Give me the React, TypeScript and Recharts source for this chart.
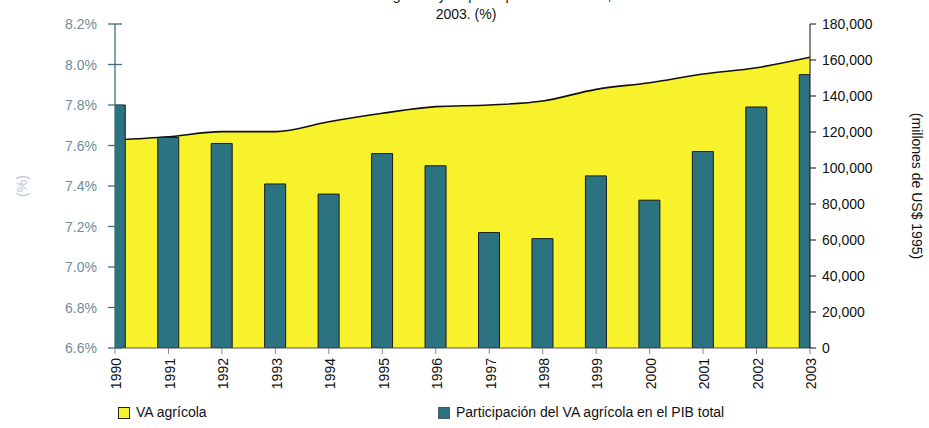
import React from 'react';
import { ComposedChart, Area, Bar, XAxis, YAxis, Legend } from 'recharts';

const years = [1990, 1991, 1992, 1993, 1994, 1995, 1996, 1997, 1998, 1999, 2000, 2001, 2002, 2003];
const vaAgricola = [115600, 117400, 120200, 120200, 125700, 130400, 134100, 135000, 137200, 143700, 147400, 152200, 155700, 161500];
const participacion = [7.80, 7.64, 7.61, 7.41, 7.36, 7.56, 7.50, 7.17, 7.14, 7.45, 7.33, 7.57, 7.79, 7.95];
const pctTicks = [6.6, 6.8, 7.0, 7.2, 7.4, 7.6, 7.8, 8.0, 8.2];
const vaTicks = [0, 20000, 40000, 60000, 80000, 100000, 120000, 140000, 160000, 180000];
const titleLine1 = 'Evolución del VA agrícola y su participación en el PIB, 1990 -';
const titleLine2 = '2003. (%)';
const legendVa = 'VA agrícola';
const legendPct = 'Participación del VA agrícola en el PIB total';

const data = years.map((y, i) => ({ year: y, va: vaAgricola[i], pct: participacion[i] }));

const FONT = 'Liberation Sans, Arial, sans-serif';
const YELLOW = '#f7f22c';
const TEAL = '#2c7382';
const LEFT_AXIS = '#3f6f7e';
const LEFT_TXT = '#6f8d9b';

const LeftTick = (props: any) => {
  const { x, y, payload } = props;
  const ax = x + 7 + 11;
  return (
    <g>
      <line x1={ax - 7} x2={ax + 7} y1={y} y2={y} stroke={LEFT_AXIS} strokeWidth={1.3} />
      <text x={x} y={y} dy="0.36em" textAnchor="end" fill={LEFT_TXT} fontSize={14} fontFamily={FONT}>
        {payload.value.toFixed(1) + '%'}
      </text>
    </g>
  );
};

const RightTick = (props: any) => {
  const { x, y, payload } = props;
  return (
    <text x={x} y={y} dy="0.36em" textAnchor="start" fill="#111" fontSize={14} fontFamily={FONT}>
      {payload.value.toLocaleString('en-US')}
    </text>
  );
};

const XTick = (props: any) => {
  const { x, y, payload } = props;
  return (
    <text x={x} y={y} dy="0.45em" textAnchor="end" transform={`rotate(-90, ${x}, ${y})`} fill="#111" fontSize={14} fontFamily={FONT}>
      {String(payload.value)}
    </text>
  );
};

const LegendContent = () => (
  <div style={{ position: 'relative', height: 24, width: 929, fontFamily: FONT, fontSize: 14, color: '#111' }}>
    <div style={{ position: 'absolute', left: 118, top: 3, width: 10, height: 10, background: YELLOW, border: '1px solid #222' }} />
    <div style={{ position: 'absolute', left: 136, top: 0, lineHeight: '16px', whiteSpace: 'nowrap' }}>{legendVa}</div>
    <div style={{ position: 'absolute', left: 438, top: 3, width: 10, height: 10, background: TEAL, border: '1px solid #556' }} />
    <div style={{ position: 'absolute', left: 456, top: 0, lineHeight: '16px', whiteSpace: 'nowrap' }}>{legendPct}</div>
  </div>
);

export default function App() {
  return (
    <div style={{ position: 'absolute', left: 0, top: 0, width: 929, height: 428, background: '#fff' }}>
      <ComposedChart width={929} height={428} data={data} margin={{ top: 24, right: 0, bottom: 0, left: 0 }}>
        <XAxis
          dataKey="year"
          type="number"
          domain={[1990, 2003]}
          ticks={years}
          interval={0}
          allowDataOverflow
          height={56}
          stroke="#555"
          tickSize={6}
          tickMargin={4}
          tick={<XTick />}
          tickLine={{ stroke: '#888' }}
        />
        <YAxis
          yAxisId="pct"
          orientation="left"
          domain={[6.6, 8.2]}
          ticks={pctTicks}
          interval={0}
          allowDataOverflow
          width={115}
          tickSize={7}
          tickMargin={11}
          tickLine={false}
          axisLine={{ stroke: LEFT_AXIS, strokeWidth: 1.3 }}
          tick={<LeftTick />}
          label={{ value: '(%)', angle: -90, position: 'insideLeft', offset: 22, style: { fill: '#b9c9d2', fontSize: 14, fontFamily: FONT, textAnchor: 'middle' } }}
        />
        <YAxis
          yAxisId="va"
          orientation="right"
          domain={[0, 180000]}
          ticks={vaTicks}
          interval={0}
          width={119}
          tickSize={6}
          tickMargin={6}
          stroke="#111"
          tickLine={{ stroke: '#111' }}
          tick={<RightTick />}
          label={{ value: '(millones de US$ 1995)', angle: 90, position: 'insideRight', offset: 12, style: { fill: '#111', fontSize: 14, fontFamily: FONT, textAnchor: 'middle' } }}
        />
        <Area yAxisId="va" dataKey="va" type="monotone" fill={YELLOW} fillOpacity={1} stroke="#111" strokeWidth={1.6} isAnimationActive={false} dot={false} activeDot={false} />
        <Bar yAxisId="pct" dataKey="pct" barSize={21} fill={TEAL} stroke="#1a1a1a" strokeWidth={1} isAnimationActive={false} />
        <Legend verticalAlign="bottom" align="left" height={24} content={<LegendContent />} wrapperStyle={{ left: 0, width: 929 }} />
        <text x={466} y={0} textAnchor="middle" fontSize={14} fontFamily={FONT} fill="#111">{titleLine1}</text>
        <text x={466} y={19} textAnchor="middle" fontSize={14} fontFamily={FONT} fill="#111">{titleLine2}</text>
      </ComposedChart>
    </div>
  );
}
